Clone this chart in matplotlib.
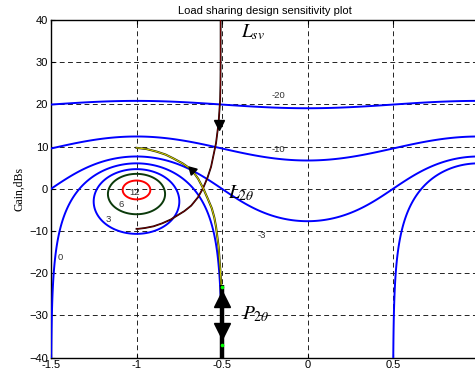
import numpy as np
import matplotlib
matplotlib.use("Agg")
import matplotlib.pyplot as plt

# ---- data ----
open_levels = [-20, -10, -3, 0]                  # open sensitivity contours, dB
open_colors = ['#0000ff', '#0000ff', '#0000ff', '#0000ff']
closed_levels = [3, 6, 12]                       # closed contours around the critical point, dB
closed_colors = ['#0000ff', '#0b3a0b', '#ff0000']
level_labels = ['-20', '-10', '-3', '0', '3', '6', '12']
label_x = [-0.17, -0.17, -0.27, -1.447, -1.165, -1.087, -1.013]
label_y = [22.2, 9.4, -11.0, -16.2, -7.2, -3.8, -0.9]

lsv_x = [-0.508, -0.508, -0.509, -0.511, -0.52, -0.535, -0.564, -0.585, -0.61, -0.64,
         -0.68, -0.72, -0.76, -0.80, -0.85, -0.90, -0.95, -0.99, -1.0]
lsv_y = [40, 30, 25, 21, 15.6, 10.8, 5.2, 2.6, 0.2, -2.0,
         -4.0, -5.3, -6.3, -7.3, -8.2, -8.9, -9.3, -9.5, -9.5]

l2t_x = [-1.0, -0.94, -0.882, -0.83, -0.785, -0.73, -0.677, -0.64, -0.61, -0.585,
         -0.56, -0.545, -0.535, -0.52, -0.51, -0.505, -0.5, -0.5]
l2t_y = [9.7, 9.4, 8.8, 8.1, 7.2, 6.0, 4.5, 2.4, 0.1, -2.2,
         -4.6, -6.8, -9.0, -13.7, -19.2, -22.4, -30, -40]

p2t_x = [-0.5, -0.5]
p2t_y = [-22.8, -40]

xticks = [-1.5, -1, -0.5, 0, 0.5, 1]
xtick_labels = ['-1.5', '-1', '-0.5', '0', '0.5', '']
yticks = [-40, -30, -20, -10, 0, 10, 20, 30, 40]

# ---- figure ----
plt.rcParams['mathtext.fontset'] = 'stix'
fig = plt.figure(figsize=(4.75, 3.78), dpi=100)
ax = fig.add_axes([51 / 475, 20.5 / 378, 427.5 / 475, 337.5 / 378])

def sens_field(ph_lo, ph_hi, n):
    ph = np.linspace(ph_lo, ph_hi, n)
    g = np.linspace(-46, 46, 1000)
    PH, G = np.meshgrid(ph, g)
    L = 10 ** (G / 20) * np.exp(1j * np.pi * PH)
    return PH, G, -20 * np.log10(np.abs(1 + L))

PH, G, S = sens_field(-1.6, 1.1, 1400)
ax.contour(PH, G, S, levels=open_levels, colors=open_colors, linewidths=1.4, zorder=3)
PH2, G2, S2 = sens_field(-1.5, -0.5, 700)
ax.contour(PH2, G2, S2, levels=closed_levels, colors=closed_colors, linewidths=1.4, zorder=3)

for t, x, y in zip(level_labels, label_x, label_y):
    ax.text(x, y, t, fontsize=6.8, color='#333333', ha='center', va='center',
            family='Liberation Sans', zorder=6)

# trajectories
ax.plot(lsv_x, lsv_y, color='#140000', lw=1.3, zorder=4)
ax.plot(lsv_x, lsv_y, color='#8b0000', lw=0.5, zorder=4.1)
ax.plot([-0.52], [15.0], marker='v', color='black', ms=7, zorder=5)

ax.plot(l2t_x, l2t_y, color='#2a2a00', lw=1.5, zorder=4)
ax.plot(l2t_x, l2t_y, color='#e8e800', lw=0.6, zorder=4.1)
ax.plot([-0.677], [4.5], marker=(3, 0, 45), color='black', ms=7, zorder=5)

ax.plot(p2t_x, p2t_y, color='black', lw=3.2, zorder=5, solid_capstyle='butt')
ax.plot([-0.5], [-26.2], marker='^', color='black', ms=11, zorder=5)
ax.plot([-0.5], [-33.8], marker='v', color='black', ms=11, zorder=5)
ax.plot([-0.5, -0.5], [-23.4, -37.0], ls='none', marker='o', ms=1.6, color='#00ff00', zorder=6)

ax.text(-0.39, 36, r'$L_{sv}$', fontsize=14, ha='left', va='baseline', zorder=6)
ax.text(-0.463, -2.3, r'$L_{2\theta}$', fontsize=14, ha='left', va='baseline', zorder=6)
ax.text(-0.385, -31, r'$P_{2\theta}$', fontsize=14, ha='left', va='baseline', zorder=6)

ax.set_xlim(-1.5, 1)
ax.set_ylim(-40, 40)
ax.set_xticks(xticks)
ax.set_xticklabels(xtick_labels)
ax.set_yticks(yticks)
ax.grid(True, color='#222222', ls=(0, (5, 3.5)), lw=0.7, zorder=1)
ax.tick_params(direction='in', length=3, labelsize=8, top=True, right=False, pad=2)
for lab in ax.get_xticklabels() + ax.get_yticklabels():
    lab.set_family('Liberation Sans')
for s in ax.spines.values():
    s.set_linewidth(1.0)
ax.spines['right'].set_visible(False)

ax.set_title('Load sharing design sensitivity plot', fontsize=8,
             family='Liberation Sans', pad=4)
ax.set_ylabel('Gain,dBs', fontsize=8.5, family='Liberation Serif', labelpad=3)

fig.savefig('out.png', dpi=100)
